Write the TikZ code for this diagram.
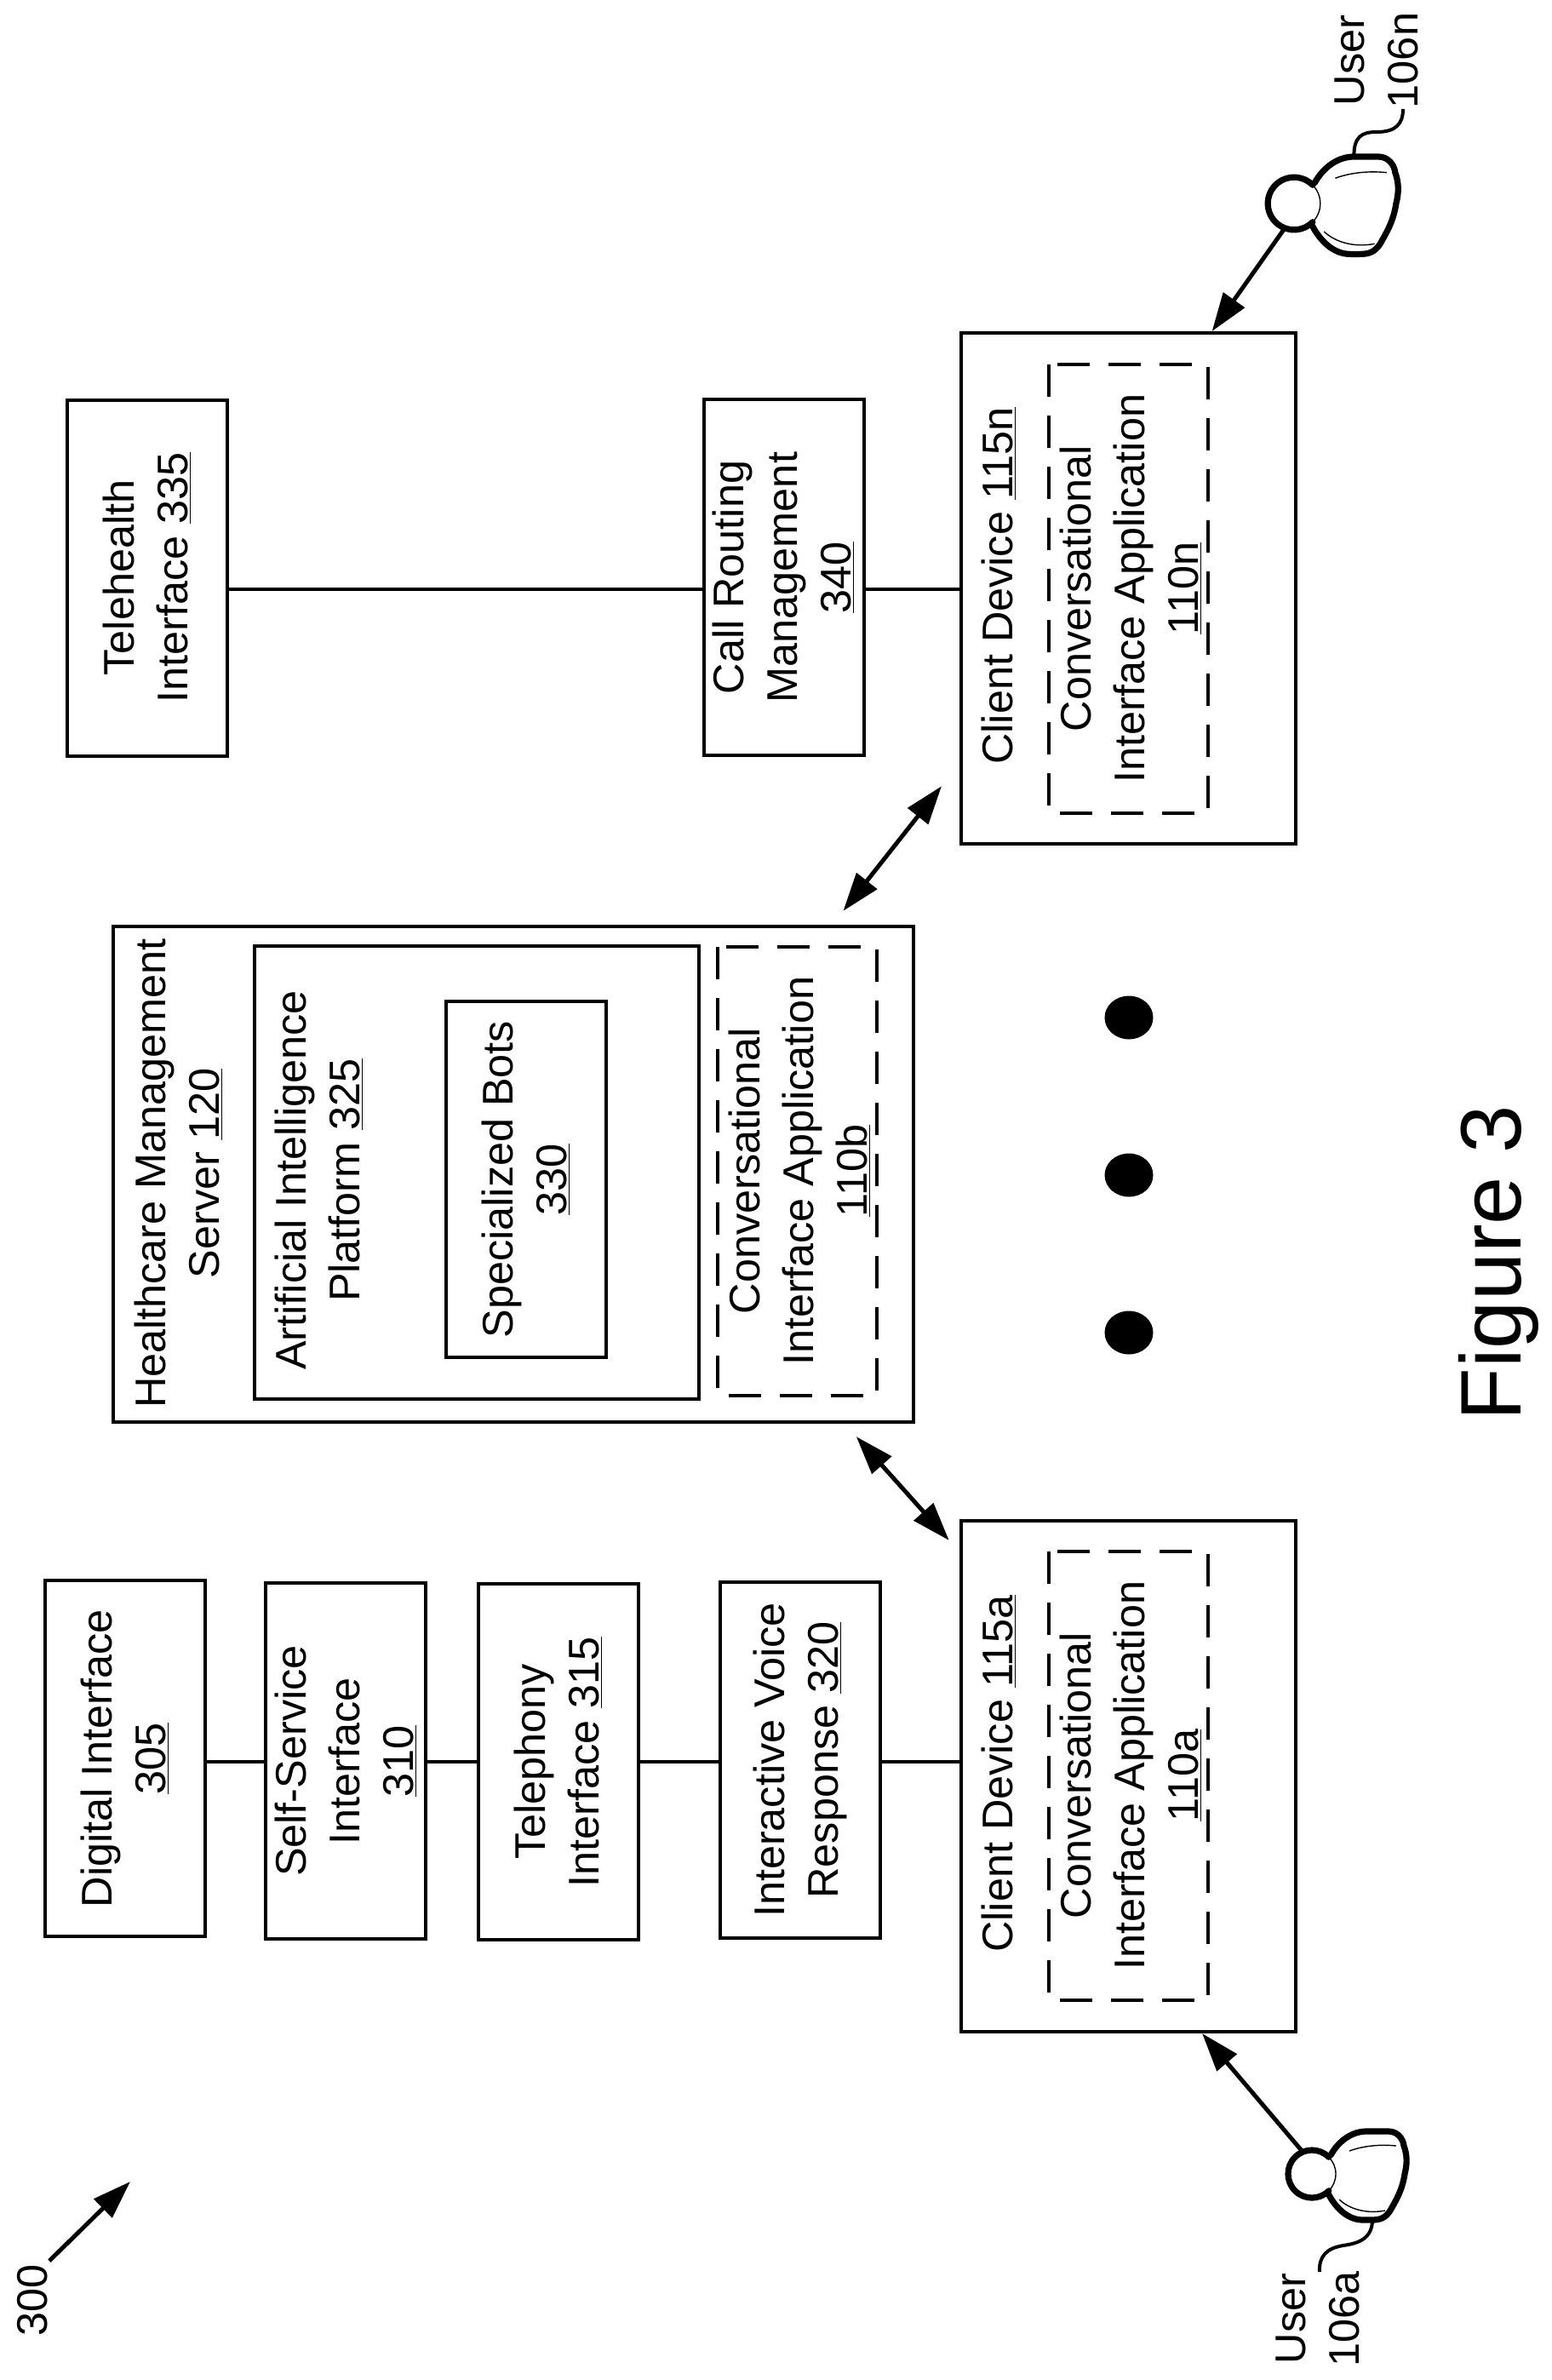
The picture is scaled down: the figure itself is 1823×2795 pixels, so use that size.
\documentclass[tikz,border=0pt]{standalone}
\usepackage{fontspec}
\setmainfont{Liberation Sans}
\usetikzlibrary{shapes.geometric, arrows.meta}
\tikzstyle{lbl} = [rotate=90, align=center, inner sep=0pt, font=\fontsize{25.2}{31.5}\selectfont]
\tikzstyle{block} = [lbl, rectangle, draw, line width=2pt, minimum width=209pt, minimum height=94pt]
\tikzstyle{dashblock} = [block, dash pattern=on 19pt off 11pt, minimum width=263.5pt, minimum height=93.5pt]
\tikzstyle{device} = [block, minimum width=300pt, minimum height=196.5pt]
\tikzstyle{dot} = [ellipse, fill=black, minimum width=28.5pt, minimum height=25.5pt, inner sep=0pt]
\tikzstyle{link} = [line width=2pt]
\tikzstyle{arrow} = [line width=2.5pt, -{Triangle[length=22.5pt,width=15pt]}]
\tikzstyle{biarrow} = [line width=2.5pt, {Triangle[length=22.5pt,width=15pt]}-{Triangle[length=22.5pt,width=15pt]}]
\tikzstyle{leader} = [line width=2pt]
\tikzstyle{userline} = [line width=3.6pt, line cap=round]
\tikzstyle{userthin} = [line width=0.7pt]
\tikzset{userfigure/.pic={
    \draw [userline] (22,-22) .. controls (32,-40) and (48,-50) .. (64,-50) -- (90,-50)
        .. controls (100,-50) and (107,-42) .. (108,-33) .. controls (112,-22) and (112,-12) .. (109,0)
        .. controls (106,20) and (98,32) .. (92,43) .. controls (86,52) and (80,54) .. (70,54) -- (60,54)
        .. controls (42,54) and (28,40) .. (19,23);
    \draw [userthin] (44,-27) .. controls (60,-33) and (80,-35) .. (99,-33);
    \draw [userthin] (32,30) .. controls (45,42) and (65,47) .. (86,43);
    \node [circle, draw, userthin, fill=white, transform shape, minimum size=28pt, inner sep=0pt] (-head) at (0,0) {};
    \draw [userline] (45:14pt) arc [start angle=45, end angle=315, radius=14pt];
    \coordinate (-top) at (64,-50);
    \coordinate (-bot) at (71,54);
}}

\begin{document}
\begin{tikzpicture}[x=0.5pt, y=-0.5pt]
            \useasboundingbox (0,0) rectangle (1823,2795);

            \node [block] at (147,2065) (digital) {Digital Interface\\\underline{305}};
            \node [block] at (406,2068) (selfservice) {Self-Service\\Interface\\\underline{310}};
            \node [block] at (656,2069) (telephony) {Telephony\\Interface \underline{315}};
            \node [block] at (940,2067) (ivr) {Interactive Voice\\Response \underline{320}};
            \node [device] at (1325.5,2086) (clienta) {};
            \node [lbl] at (1173,2083) (clientalabel) {Client Device \underline{115a}};
            \node [dashblock] at (1325.5,2085) (appa) {};
            \node [lbl] at (1328,2085) (appalabel) {Conversational\\Interface Application\\\underline{110a}};

            \node [block, minimum width=291pt, minimum height=470pt] at (603,1378.5) (server) {};
            \node [lbl] at (210,1378) (serverlabel) {Healthcare Management\\Server \underline{120}};
            \node [block, minimum width=266pt, minimum height=261pt] at (560,1377) (platform) {};
            \node [lbl] at (375,1386) (platformlabel) {Artificial Intelligence\\Platform \underline{325}};
            \node [block] at (618,1385) (bots) {Specialized Bots\\\underline{330}};
            \node [dashblock] at (936.5,1375) (appb) {};
            \node [lbl] at (939,1375) (appblabel) {Conversational\\Interface Application\\\underline{110b}};

            \node [block] at (173,678.5) (telehealth) {Telehealth\\Interface \underline{335}};
            \node [block] at (920.5,678) (routing) {Call Routing\\Management\\\underline{340}};
            \node [device] at (1325.5,691) (clientn) {};
            \node [lbl] at (1173,688) (clientnlabel) {Client Device \underline{115n}};
            \node [dashblock] at (1325.5,691) (appn) {};
            \node [lbl] at (1328,691) (appnlabel) {Conversational\\Interface Application\\\underline{110n}};

            \node [dot] at (1326,1195) (dot1) {};
            \node [dot] at (1326,1380) (dot2) {};
            \node [dot] at (1326,1565) (dot3) {};

            \pic (usera) at (1541,2553) {userfigure};
            \pic [scale=1.1] (usern) at (1520,239) {userfigure};
            \node [lbl] at (1548,2723) (useralabel) {User\\106a};
            \node [lbl] at (1617,71) (usernlabel) {User\\106n};
            \coordinate (leadera) at (1550,2668);
            \coordinate (leadern) at (1648,128);

            \node [lbl] at (38,2701) (figlabel) {300};
            \coordinate (figtail) at (58,2655);
            \coordinate (fighead) at (153,2562);
            \node [lbl, anchor=base, font=\fontsize{50.5}{60}\selectfont] at (1786,1483) (figcaption) {Figure 3};

            \coordinate (lowline) at (0,2069);
            \coordinate (highline) at (0,692);

            \draw [link] (digital.south |- lowline) -- (selfservice.north |- lowline);
            \draw [link] (selfservice.south |- lowline) -- (telephony.north |- lowline);
            \draw [link] (telephony.south |- lowline) -- (ivr.north |- lowline);
            \draw [link] (ivr.south |- lowline) -- (clienta.north |- lowline);
            \draw [link] (telehealth.south |- highline) -- (routing.north |- highline);
            \draw [link] (routing.south |- highline) -- (clientn.north |- highline);

            \draw [biarrow, shorten <=10.5pt, shorten >=9.2pt] (server.233.1) -- (clienta.37.4);
            \draw [biarrow, shorten <=10pt, shorten >=17pt] (server.-52.1) -- (clientn.136.2);
            \draw [arrow] (usera-head.113) -- (clienta.196.3);
            \draw [arrow] (usern-head.249) -- (clientn.-18.5);
            \draw [arrow] (figtail) -- (fighead);

            \draw [leader] (usera-bot) .. controls (1612,2632) and (1590,2635) .. (1578,2637) .. controls (1558,2640) and (1549,2650) .. (leadera);
            \draw [leader] (usern-top) .. controls (1590,160) and (1600,155) .. (1617,155) .. controls (1640,155) and (1648,145) .. (leadern);
\end{tikzpicture}
\end{document}
